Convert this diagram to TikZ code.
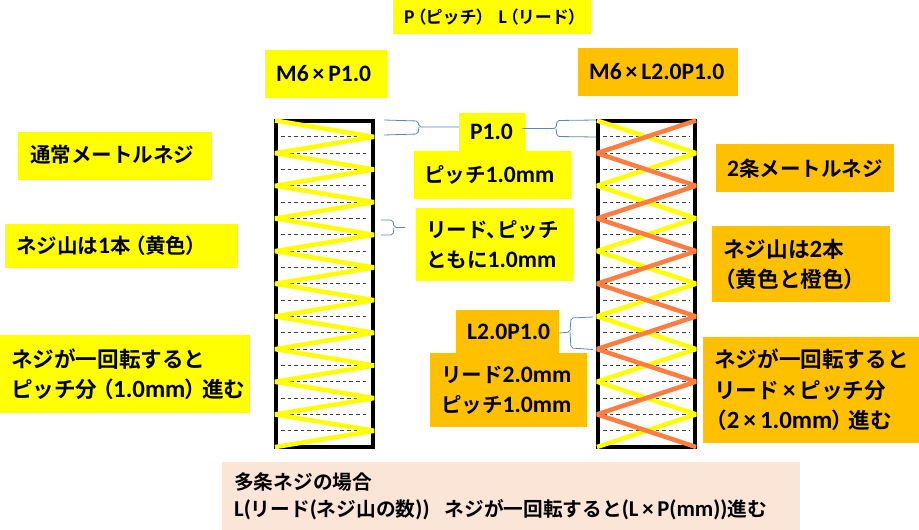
\documentclass[tikz,border=0pt]{standalone}
\usepackage{fontspec}
\setmainfont{Carlito}[Scale=1.15]
\newfontfamily\cjk{Noto Sans CJK JP}[BoldFont={Noto Sans CJK JP Bold}]
\newcommand{\jp}[1]{{\cjk #1}}
\newcommand{\opn}{\hspace{-5pt}\jp{（}\hspace{-1pt}}
\newcommand{\cls}{\hspace{-1pt}\jp{）}\hspace{-4pt}}
\definecolor{ylw}{HTML}{FFFF00}
\definecolor{org}{HTML}{FFC000}
\definecolor{peach}{HTML}{FBE5D6}
\definecolor{thread}{HTML}{FF7D40}
\definecolor{brace}{HTML}{5B87C0}
\tikzset{
  lbl/.style={anchor=north west,inner ysep=0pt,align=left,font=\bfseries\fontsize{20.5}{30}\selectfont,text=black},
  ybox/.style={lbl,fill=ylw},
  obox/.style={lbl,fill=org},
  pbox/.style={lbl,fill=peach,font=\bfseries\fontsize{19.7}{27}\selectfont},
  smalltxt/.style={font=\bfseries\fontsize{17}{20}\selectfont},
  bigtxt/.style={font=\bfseries\fontsize{21.6}{30.5}\selectfont},
  bar/.style={line width=4pt,black},
  grid/.style={line width=0.7pt,black!75,dash pattern=on 3.6pt off 3pt},
  ythread/.style={ylw,line width=4.5pt,line join=bevel},
  othread/.style={thread,line width=4.5pt,line join=bevel},
  bracket/.style={brace,line width=0.8pt,rounded corners=2pt},
}
\newcommand{\tbox}[8]{% style, name, x, y, w, h, pad, text
  \node[#1,inner xsep=#7pt,minimum width=#5pt,minimum height=#6pt,text width=#5pt-2*#7pt] (#2) at (#3,#4) {#8};}
\begin{document}
\begin{tikzpicture}[x=1pt,y=-1pt]
\useasboundingbox (0,0) rectangle (919,530);
% text boxes
\tbox{ybox,smalltxt}{top}{393}{0}{198}{34}{11}{\mbox{P\opn\jp{ピッチ}\cls\hspace{10pt}L\opn\jp{リード}\cls}}
\tbox{ybox}{mone}{265}{50}{122}{48}{11}{\raisebox{2pt}{M6\,×\,P1.0}}
\tbox{obox}{mtwo}{578}{48}{160}{48}{11}{\raisebox{1pt}{M6\,×\,L2.0P1.0}}
\tbox{ybox}{normal}{18}{132}{194}{48}{12}{\raisebox{4pt}{\jp{通常メートルネジ}}}
\tbox{ybox}{onethread}{5}{224}{233}{44}{11}{\mbox{\jp{ネジ山は}1\jp{本}\opn\jp{黄色}\cls}}
\tbox{ybox,bigtxt}{oneturn}{0}{335}{250}{78}{11}{\mbox{\jp{ネジが一回転すると}}\\\mbox{\jp{ピッチ分}\opn 1.0mm\cls\jp{進む}}}
\tbox{ybox}{pitchval}{414}{151}{157}{48}{10}{\jp{ピッチ}1.0mm}
\tbox{ybox}{pone}{459}{113}{66}{38}{11}{\raisebox{-6pt}{P1.0}}
\tbox{ybox}{both}{416}{208}{157}{73}{10}{\jp{リード、}\hspace{-10pt}\jp{ピッチ}\\\jp{ともに}1.0mm}
\tbox{obox}{ltwoval}{430}{353}{157}{74}{11}{\jp{リード}2.0mm\\\jp{ピッチ}1.0mm}
\tbox{obox}{ltwo}{456}{310}{103}{43}{11}{\raisebox{-2pt}{L2.0P1.0}}
\tbox{obox}{two}{716}{144}{178}{48}{11}{2\jp{条メートルネジ}}
\tbox{obox,bigtxt}{twothread}{712}{226}{178}{76}{11}{\jp{ネジ山は}2\jp{本}\\\mbox{\hspace{-9pt}\jp{（黄色と橙色）}}}
\tbox{obox,bigtxt}{twoturn}{703}{337}{216}{106}{11}{\mbox{\jp{ネジが一回転すると}}\\\mbox{\jp{リード}\,×\,\jp{ピッチ分}}\\\mbox{\hspace{-9pt}\jp{（}2\,×\,1.0mm\cls\jp{進む}}}
\tbox{pbox}{multi}{222}{462}{578}{68}{12}{\jp{多条ネジの場合}\\\mbox{L(\jp{リード}(\jp{ネジ山の数}))\hspace{15pt}\jp{ネジが一回転すると}(L\,×\,P(mm))\jp{進む}}}
% frames
\draw[bar] (275.5,121) -- (372.5,121);
\draw[bar] (275.5,447) -- (372.5,447);
\draw[bar] (276,119) -- (276,449);
\draw[bar] (373,119) -- (373,449);
\draw[bar] (598,121) -- (695,121);
\draw[bar] (598,447) -- (695,447);
\draw[bar] (598,119) -- (598,449);
\draw[bar] (695,119) -- (695,449);
% dashed pitch lines
\foreach \i in {1,3,...,19} {
  \draw[grid] (281,120.5+\i*16.33) -- (358,120.5+\i*16.33);
  \draw[grid] (603,120.5+\i*16.33) -- (690,120.5+\i*16.33);
}
\foreach \i in {2,4,...,18} {
  \draw[grid] (290,120.5+\i*16.33) -- (368,120.5+\i*16.33);
  \draw[grid] (603,120.5+\i*16.33) -- (690,120.5+\i*16.33);
}
% single thread
\draw[ythread] (275,120.5)
  \foreach \i in {1,3,...,19} { -- (374,120.5+\i*16.33) -- (275,120.5+\i*16.33+16.33) };
% double thread
\draw[ythread] (597,120.5)
  \foreach \i in {1,3,...,9} { -- (696,120.5+\i*32.65) -- (597,120.5+\i*32.65+32.65) };
\draw[othread] (696,120.5)
  \foreach \i in {1,3,...,9} { -- (597,120.5+\i*32.65) -- (696,120.5+\i*32.65+32.65) };
% brackets
\coordinate (a1) at (384,120); \coordinate (a2) at (384,135);
\draw[bracket] (a1) -- (418,121) -- (419,127) -- (pone.west |- 0,127) ;
\draw[bracket] (a2) -- (418,134) -- (419,127);
\coordinate (b1) at (596,120); \coordinate (b2) at (596,137);
\draw[bracket] (pone.east |- 0,128.5) ++(-3,0) -- (556,128.5) -- (557,120.5) -- (b1);
\draw[bracket] (556,128.5) -- (557,136.5) -- (b2);
\coordinate (c1) at (381,220); \coordinate (c2) at (381,235);
\coordinate (c3) at (405,227.5);
\draw[bracket] (c1) -- (393,220) -- (394,227.5) -- (c3);
\draw[bracket] (c2) -- (393,235) -- (394,227.5);
\coordinate (d1) at (593,317); \coordinate (d2) at (593,349.5);
\draw[bracket] (ltwo.east |- 0,333) -- (570,332) -- (571,318) -- (d1);
\draw[bracket] (570,332) -- (571,348) -- (d2);
\end{tikzpicture}
\end{document}
